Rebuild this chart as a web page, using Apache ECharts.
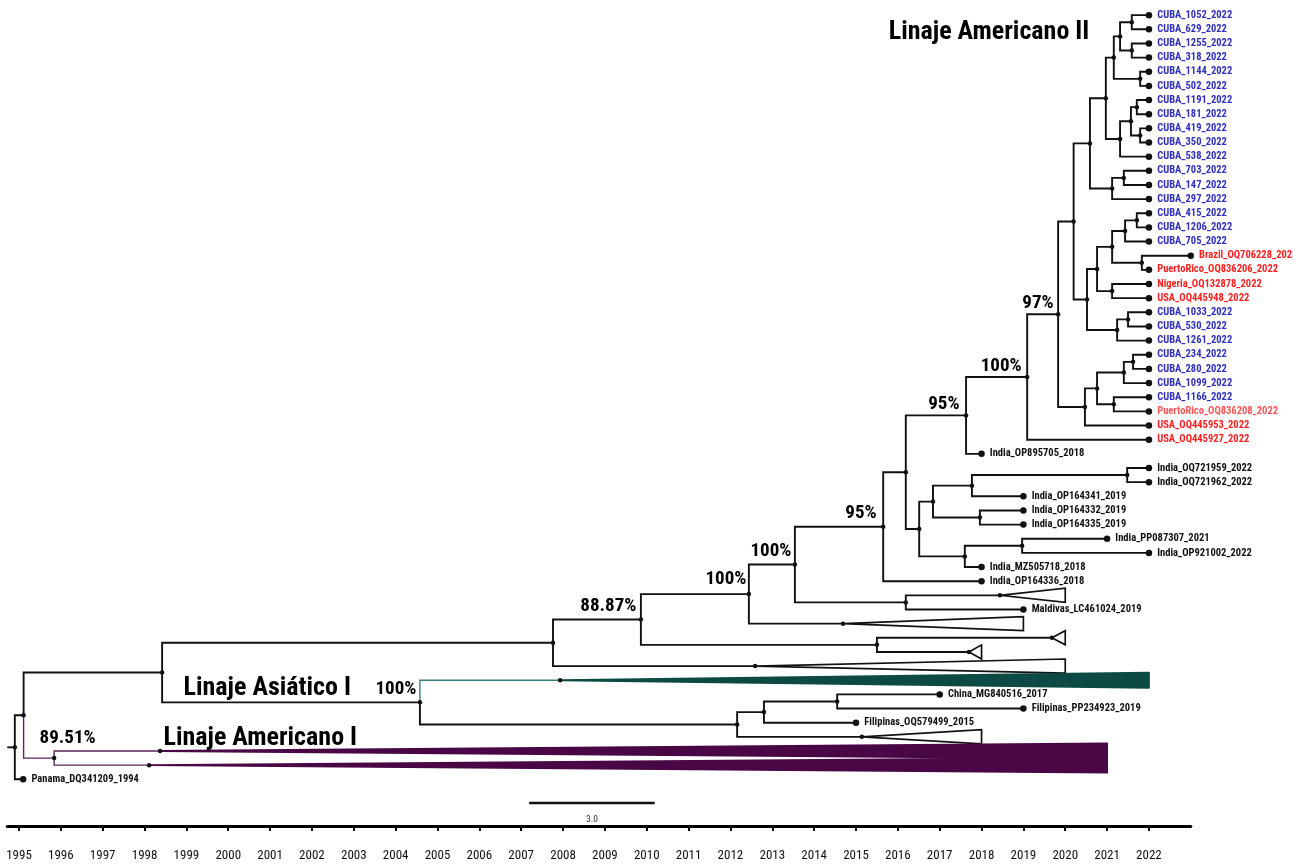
<!DOCTYPE html>
<html>
<head>
<meta charset="utf-8">
<script src="https://cdn.jsdelivr.net/npm/echarts@6/dist/echarts.min.js"></script>
<style>
  html, body { margin: 0; padding: 0; background: #fff; }
  #chart { width: 1293px; height: 867px; }
</style>
</head>
<body>
<div id="chart"></div>
<script>
// ---- Tips (sampled sequences) and their sampling dates ----
const tipNames = [
  'CUBA_1052_2022', 'CUBA_629_2022', 'CUBA_1255_2022', 'CUBA_318_2022',
  'CUBA_1144_2022', 'CUBA_502_2022', 'CUBA_1191_2022', 'CUBA_181_2022',
  'CUBA_419_2022', 'CUBA_350_2022', 'CUBA_538_2022', 'CUBA_703_2022',
  'CUBA_147_2022', 'CUBA_297_2022', 'CUBA_415_2022', 'CUBA_1206_2022',
  'CUBA_705_2022', 'Brazil_OQ706228_2023', 'PuertoRico_OQ836206_2022',
  'Nigeria_OQ132878_2022', 'USA_OQ445948_2022', 'CUBA_1033_2022',
  'CUBA_530_2022', 'CUBA_1261_2022', 'CUBA_234_2022', 'CUBA_280_2022',
  'CUBA_1099_2022', 'CUBA_1166_2022', 'PuertoRico_OQ836208_2022',
  'USA_OQ445953_2022', 'USA_OQ445927_2022', 'India_OP895705_2018',
  'India_OQ721959_2022', 'India_OQ721962_2022', 'India_OP164341_2019',
  'India_OP164332_2019', 'India_OP164335_2019', 'India_PP087307_2021',
  'India_OP921002_2022', 'India_MZ505718_2018', 'India_OP164336_2018',
  'Maldivas_LC461024_2019', 'China_MG840516_2017', 'Filipinas_PP234923_2019',
  'Filipinas_OQ579499_2015', 'Panama_DQ341209_1994'
];
const tipYears = [
  2022, 2022, 2022, 2022, 2022, 2022, 2022, 2022, 2022, 2022, 2022, 2022,
  2022, 2022, 2022, 2022, 2022, 2023, 2022, 2022, 2022, 2022, 2022, 2022,
  2022, 2022, 2022, 2022, 2022, 2022, 2022, 2018, 2022, 2022, 2019, 2019,
  2019, 2021, 2022, 2018, 2018, 2019, 2017, 2019, 2015, 1995.1
];

// ---- Collapsed clades: crown date and latest tip date ----
const cladeNames = ['cl_A', 'cl_B', 'cl_C', 'cl_D', 'cl_E', 'cl_Asia', 'cl_F', 'cl_AmI_a', 'cl_AmI_b'];
const cladeApexYears = [2018.44, 2014.69, 2019.68, 2017.70, 2012.59, 2007.93, 2015.14, 1998.37, 1998.11];
const cladeEndYears  = [2020.0, 2019.0, 2020.0, 2018.0, 2020.0, 2022.0, 2018.0, 2021.0, 2021.0];

// ---- Vertical order of leaves (tips and collapsed clades) ----
const leafOrder = [
  'CUBA_1052_2022', 'CUBA_629_2022', 'CUBA_1255_2022', 'CUBA_318_2022',
  'CUBA_1144_2022', 'CUBA_502_2022', 'CUBA_1191_2022', 'CUBA_181_2022',
  'CUBA_419_2022', 'CUBA_350_2022', 'CUBA_538_2022', 'CUBA_703_2022',
  'CUBA_147_2022', 'CUBA_297_2022', 'CUBA_415_2022', 'CUBA_1206_2022',
  'CUBA_705_2022', 'Brazil_OQ706228_2023', 'PuertoRico_OQ836206_2022',
  'Nigeria_OQ132878_2022', 'USA_OQ445948_2022', 'CUBA_1033_2022',
  'CUBA_530_2022', 'CUBA_1261_2022', 'CUBA_234_2022', 'CUBA_280_2022',
  'CUBA_1099_2022', 'CUBA_1166_2022', 'PuertoRico_OQ836208_2022',
  'USA_OQ445953_2022', 'USA_OQ445927_2022', 'India_OP895705_2018',
  'India_OQ721959_2022', 'India_OQ721962_2022', 'India_OP164341_2019',
  'India_OP164332_2019', 'India_OP164335_2019', 'India_PP087307_2021',
  'India_OP921002_2022', 'India_MZ505718_2018', 'India_OP164336_2018',
  'cl_A', 'Maldivas_LC461024_2019', 'cl_B', 'cl_C', 'cl_D', 'cl_E', 'cl_Asia',
  'China_MG840516_2017', 'Filipinas_PP234923_2019', 'Filipinas_OQ579499_2015',
  'cl_F', 'cl_AmI_a', 'cl_AmI_b', 'Panama_DQ341209_1994'
];

// ---- Internal nodes: id, date, children ----
const nodeIds = [
  'a1', 'a2', 'a3', 'a4', 'a5', 'a6', 'a7', 'a8', 'a9', 'a10', 'a11', 'a12', 'a13',
  'b1', 'b2', 'b3', 'b4', 'b5', 'b6', 'b7', 'b8', 'b9', 'c0',
  'c1', 'c2', 'c3', 'c4', 'c5', 'd97', 'd100', 'd95',
  'e1', 'e2', 'e3', 'e4', 'e5', 'e6', 'e7', 'e8', 'f95', 'f1', 'f100', 'g100',
  'g1', 'g88', 'h1', 'i1', 'i2', 'i3', 'i100', 'j1', 'k89', 'k1', 'root'
];
const nodeYears = [
  2021.59, 2021.59, 2021.31, 2021.79, 2021.16, 2021.71, 2021.79, 2021.57, 2021.31, 2020.97, 2021.40, 2021.12, 2020.59,
  2021.71, 2021.43, 2021.83, 2021.12, 2021.12, 2020.76, 2021.50, 2021.24, 2020.52, 2020.20,
  2021.62, 2021.40, 2021.16, 2020.76, 2020.47, 2019.83, 2019.09, 2017.63,
  2021.48, 2017.77, 2017.96, 2016.84, 2018.97, 2017.60, 2016.51, 2016.19, 2015.65, 2016.19, 2013.54, 2012.44,
  2015.50, 2009.86, 2007.76, 2014.55, 2012.80, 2012.16, 2004.58, 1998.42, 1995.84, 1995.11, 1994.90
];
const nodeChildren = [
  ['CUBA_1052_2022', 'CUBA_629_2022'], ['CUBA_1255_2022', 'CUBA_318_2022'], ['a1', 'a2'],
  ['CUBA_1144_2022', 'CUBA_502_2022'], ['a3', 'a4'], ['CUBA_1191_2022', 'CUBA_181_2022'],
  ['CUBA_419_2022', 'CUBA_350_2022'], ['a6', 'a7'], ['a8', 'CUBA_538_2022'], ['a5', 'a9'],
  ['CUBA_703_2022', 'CUBA_147_2022'], ['a11', 'CUBA_297_2022'], ['a10', 'a12'],
  ['CUBA_415_2022', 'CUBA_1206_2022'], ['b1', 'CUBA_705_2022'],
  ['Brazil_OQ706228_2023', 'PuertoRico_OQ836206_2022'], ['b2', 'b3'],
  ['Nigeria_OQ132878_2022', 'USA_OQ445948_2022'], ['b4', 'b5'],
  ['CUBA_1033_2022', 'CUBA_530_2022'], ['b7', 'CUBA_1261_2022'], ['b6', 'b8'], ['a13', 'b9'],
  ['CUBA_234_2022', 'CUBA_280_2022'], ['c1', 'CUBA_1099_2022'],
  ['CUBA_1166_2022', 'PuertoRico_OQ836208_2022'], ['c2', 'c3'], ['c4', 'USA_OQ445953_2022'],
  ['c0', 'c5'], ['d97', 'USA_OQ445927_2022'], ['d100', 'India_OP895705_2018'],
  ['India_OQ721959_2022', 'India_OQ721962_2022'], ['e1', 'India_OP164341_2019'],
  ['India_OP164332_2019', 'India_OP164335_2019'], ['e2', 'e3'],
  ['India_PP087307_2021', 'India_OP921002_2022'], ['e5', 'India_MZ505718_2018'], ['e4', 'e6'],
  ['d95', 'e7'], ['e8', 'India_OP164336_2018'], ['cl_A', 'Maldivas_LC461024_2019'],
  ['f95', 'f1'], ['f100', 'cl_B'], ['cl_C', 'cl_D'], ['g100', 'g1'], ['g88', 'cl_E'],
  ['China_MG840516_2017', 'Filipinas_PP234923_2019'], ['i1', 'Filipinas_OQ579499_2015'],
  ['i2', 'cl_F'], ['cl_Asia', 'i3'], ['h1', 'i100'], ['cl_AmI_a', 'cl_AmI_b'],
  ['j1', 'k89'], ['k1', 'Panama_DQ341209_1994']
];

// ---- Posterior support shown on nodes ----
const supportNodes  = ['g88', 'g100', 'f100', 'f95', 'd95', 'd100', 'd97', 'i100', 'k89'];
const supportLabels = ['88.87%', '100%', '100%', '95%', '95%', '100%', '97%', '100%', '89.51%'];

// ---- Lineage titles ----
const lineageTitles = ['Linaje Americano II', 'Linaje Asiático I', 'Linaje Americano I'];

// ---- Time axis ----
const yearTicks = [1995, 1996, 1997, 1998, 1999, 2000, 2001, 2002, 2003, 2004, 2005, 2006, 2007, 2008,
                   2009, 2010, 2011, 2012, 2013, 2014, 2015, 2016, 2017, 2018, 2019, 2020, 2021, 2022];
const scaleBarLength = 3.0;

// ================= drawing =================
const NARROW = "'Liberation Sans Narrow', 'Arial Narrow', 'Roboto Condensed', sans-serif";
const BLACK = '#111111';
const PURPLE_EDGE = '#5e2460';
const PURPLE_FILL = '#4a0745';
const TEAL_EDGE = '#3a7f7b';
const TEAL_FILL = '#0c4a43';

const yearOf = {}, rowOf = {}, childrenOf = {};
tipNames.forEach((n, i) => { yearOf[n] = tipYears[i]; });
cladeNames.forEach((n, i) => { yearOf[n] = cladeApexYears[i]; });
nodeIds.forEach((n, i) => { yearOf[n] = nodeYears[i]; childrenOf[n] = nodeChildren[i]; });
leafOrder.forEach((n, i) => { rowOf[n] = i; });

function rowFor(id) {
  if (rowOf[id] !== undefined) return rowOf[id];
  const c = childrenOf[id];
  rowOf[id] = (rowFor(c[0]) + rowFor(c[c.length - 1])) / 2;
  return rowOf[id];
}
nodeIds.forEach(rowFor);

// branches inside Linaje Americano I are purple, the Asian lineage stem is teal
const purpleSet = new Set();
(function mark(id) { purpleSet.add(id); (childrenOf[id] || []).forEach(mark); })('k89');
const edgeColors = [BLACK, PURPLE_EDGE, TEAL_EDGE];
function edgeKind(id) { return purpleSet.has(id) ? 1 : (id === 'cl_Asia' ? 2 : 0); }

const edges = [];
nodeIds.forEach(id => {
  childrenOf[id].forEach(c => {
    edges.push([yearOf[id], rowOf[id], yearOf[c], rowOf[c], edgeKind(c)]);
  });
});
// short stem in front of the root
edges.push([1994.72, rowOf.root, yearOf.root, rowOf.root, 0]);

const fillKinds = { cl_Asia: 1, cl_AmI_a: 2, cl_AmI_b: 2 };
const cladeFills = [null, TEAL_FILL, PURPLE_FILL];
const triangles = cladeNames.map((n, i) => [cladeApexYears[i], rowOf[n], cladeEndYears[i], fillKinds[n] || 0]);

function tipColor(name) {
  if (name === 'PuertoRico_OQ836208_2022') return '#ff5656';
  if (name.startsWith('CUBA')) return '#3030c0';
  if (/^(Brazil|PuertoRico|Nigeria|USA)/.test(name)) return '#ff2020';
  return '#111111';
}

const tipData = tipNames.map(n => ({
  name: n, value: [yearOf[n], rowOf[n]],
  label: { color: tipColor(n) }
}));
const nodeDots = nodeIds.map(id => [yearOf[id], rowOf[id]])
  .concat(cladeNames.map(n => [yearOf[n], rowOf[n]]));

const supportNudge = {
  g88: [-4, -13], g100: [-2, -15], f100: [-3, -13], f95: [-6, -13], d95: [-6, -11],
  d100: [-5, -11], d97: [-4, -11], i100: [-3, -13], k89: [42, -20]
};
const supportData = supportNodes.map((id, i) => ({
  name: supportLabels[i], value: [yearOf[id], rowOf[id]],
  label: { offset: supportNudge[id] }
}));

const titleAnchors = [[2015.77, 1.26], [1998.92, 47.55], [1998.44, 51.09]];
const titleData = lineageTitles.map((t, i) => ({ name: t, value: titleAnchors[i] }));

const scaleRow = 55.68, scaleStart = 2007.19;
const hiddenSymbol = { color: 'rgba(0,0,0,0)', opacity: 1 };

const chart = echarts.init(document.getElementById('chart'), null, { renderer: 'canvas' });
chart.setOption({
  backgroundColor: '#ffffff',
  animation: false,
  grid: { left: 7.28, right: 102.2, top: 1, bottom: 41, containLabel: false },
  xAxis: {
    type: 'value', min: 1994.72, max: 2023,
    axisLine: { show: true, onZero: false, lineStyle: { color: '#000', width: 3 } },
    axisTick: { show: true, customValues: yearTicks, length: 5, lineStyle: { color: '#000', width: 2 } },
    axisLabel: {
      customValues: yearTicks, margin: 23, fontFamily: NARROW, fontSize: 13, color: '#111',
      formatter: v => String(Math.round(v))
    },
    splitLine: { show: false }
  },
  yAxis: { type: 'value', min: -1, max: 57.3, inverse: true, show: false },
  series: [
    {
      type: 'custom', silent: true, z: 2,
      encode: { x: [0, 2], y: [1, 3] },
      data: edges,
      renderItem: (params, api) => {
        const p = api.coord([api.value(0), api.value(1)]);
        const c = api.coord([api.value(2), api.value(3)]);
        const k = api.value(4);
        return {
          type: 'polyline',
          shape: { points: [p, [p[0], c[1]], c] },
          style: { stroke: edgeColors[k], lineWidth: k ? 1.4 : 1.9, fill: null }
        };
      }
    },
    {
      type: 'custom', silent: true, z: 3,
      encode: { x: [0, 2], y: 1 },
      data: triangles,
      renderItem: (params, api) => {
        const k = api.value(3);
        const h = k ? 0.53 : 0.5;
        const a = api.coord([api.value(0), api.value(1)]);
        const t = api.coord([api.value(2), api.value(1) - h]);
        const b = api.coord([api.value(2), api.value(1) + h]);
        return {
          type: 'polygon',
          shape: { points: [a, t, b] },
          style: k ? { fill: cladeFills[k], stroke: cladeFills[k], lineWidth: 1.8, lineJoin: 'round' }
                   : { fill: null, stroke: BLACK, lineWidth: 1.7 }
        };
      }
    },
    {
      type: 'scatter', silent: true, z: 4,
      symbolSize: 4.5, itemStyle: { color: '#111', opacity: 1 },
      data: nodeDots
    },
    {
      type: 'scatter', silent: true, z: 5,
      symbolSize: 6.5, itemStyle: { color: '#111', opacity: 1 },
      data: tipData,
      label: {
        show: true, position: 'right', distance: 5,
        formatter: p => p.name,
        fontFamily: NARROW, fontWeight: 'bold', fontSize: 10.5
      }
    },
    {
      type: 'scatter', silent: true, z: 6,
      symbolSize: 1, itemStyle: hiddenSymbol,
      data: supportData,
      label: {
        show: true, position: 'left', distance: 0,
        formatter: p => p.name,
        fontFamily: NARROW, fontWeight: 'bold', fontSize: 19, color: '#000'
      }
    },
    {
      type: 'scatter', silent: true, z: 6,
      symbolSize: 1, itemStyle: hiddenSymbol,
      data: titleData,
      label: {
        show: true, position: 'right', distance: 0,
        formatter: p => p.name,
        fontFamily: NARROW, fontWeight: 'bold', fontSize: 26, color: '#000'
      }
    },
    {
      type: 'line', silent: true, z: 6, symbol: 'none',
      lineStyle: { color: '#111', width: 2.5 },
      data: [[scaleStart, scaleRow], [scaleStart + scaleBarLength, scaleRow]]
    },
    {
      type: 'scatter', silent: true, z: 6,
      symbolSize: 1, itemStyle: hiddenSymbol,
      data: [{ name: scaleBarLength.toFixed(1), value: [scaleStart + scaleBarLength / 2, scaleRow + 1.2] }],
      label: {
        show: true, position: 'inside',
        formatter: p => p.name,
        fontFamily: NARROW, fontSize: 9.5, color: '#333'
      }
    }
  ]
});
</script>
</body>
</html>
